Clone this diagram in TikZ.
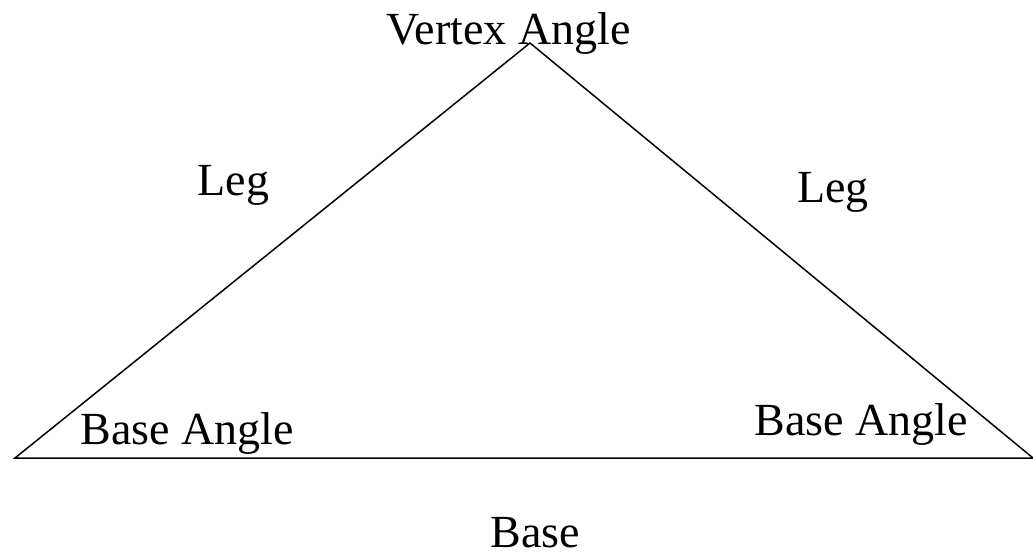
\documentclass[tikz,border=0pt]{standalone}
\usepackage{fontspec}
\setmainfont{Liberation Serif}
\begin{document}
\begin{tikzpicture}[x=1pt,y=-1pt,
  lbl/.style={anchor=base,inner sep=0pt,font=\fontsize{46}{50}\selectfont},
  edge/.style={draw=black,line width=1.5pt,line join=miter}]
\useasboundingbox (0,0) rectangle (1033,552);
\coordinate (apex) at (530,43);
\coordinate (bl) at (15,458);
\coordinate (br) at (1033,458);
\draw[edge] (bl) -- (apex) -- (br) -- cycle;
\node[lbl] (vertex) at (508.5,44) {Vertex Angle};
\node[lbl] (legl) at (233.5,195) {Leg};
\node[lbl] (legr) at (833,202) {Leg};
\node[lbl] (basel) at (187.5,444) {Base Angle};
\node[lbl] (baser) at (861,435) {Base Angle};
\node[lbl] (base) at (535.5,547) {Base};
\end{tikzpicture}
\end{document}
